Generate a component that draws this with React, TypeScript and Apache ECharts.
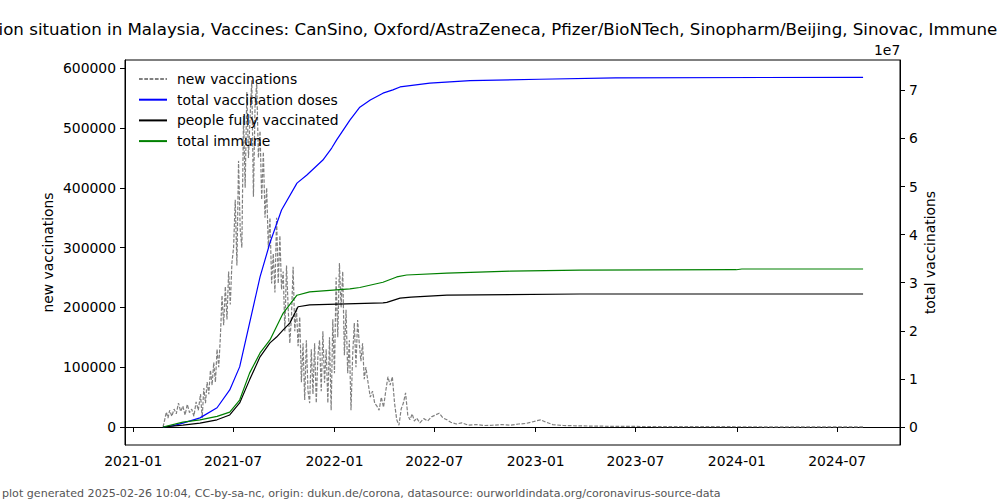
import React, { useEffect, useRef } from "react";
import * as echarts from "echarts";

const newVaxDates = [
  "2021-02-24","2021-02-27","2021-03-02","2021-03-05","2021-03-08","2021-03-12","2021-03-16","2021-03-20","2021-03-24","2021-03-28",
  "2021-04-01","2021-04-05","2021-04-09","2021-04-13","2021-04-17","2021-04-21","2021-04-25","2021-04-29","2021-05-03","2021-05-06",
  "2021-05-09","2021-05-12","2021-05-15","2021-05-18","2021-05-21","2021-05-24","2021-05-27","2021-05-30",
  "2021-06-02","2021-06-05","2021-06-08","2021-06-11","2021-06-14","2021-06-17","2021-06-20","2021-06-23","2021-06-26","2021-06-29",
  "2021-07-02","2021-07-05","2021-07-08","2021-07-11","2021-07-14","2021-07-17","2021-07-20","2021-07-23","2021-07-26","2021-07-29",
  "2021-08-01","2021-08-04","2021-08-07","2021-08-10","2021-08-13","2021-08-16","2021-08-19","2021-08-22","2021-08-25","2021-08-28","2021-08-31",
  "2021-09-03","2021-09-06","2021-09-09","2021-09-12","2021-09-15","2021-09-18","2021-09-21","2021-09-24","2021-09-27","2021-09-30",
  "2021-10-03","2021-10-06","2021-10-09","2021-10-12","2021-10-15","2021-10-18","2021-10-21","2021-10-24","2021-10-27","2021-10-30",
  "2021-11-02","2021-11-05","2021-11-08","2021-11-11","2021-11-14","2021-11-17","2021-11-20","2021-11-23","2021-11-26","2021-11-29",
  "2021-12-02","2021-12-05","2021-12-08","2021-12-11","2021-12-14","2021-12-17","2021-12-20","2021-12-23","2021-12-26","2021-12-29",
  "2022-01-01","2022-01-04","2022-01-07","2022-01-10","2022-01-13","2022-01-16","2022-01-19","2022-01-22","2022-01-25","2022-01-28","2022-01-31",
  "2022-02-03","2022-02-06","2022-02-09","2022-02-12","2022-02-15","2022-02-18","2022-02-21","2022-02-24","2022-02-27",
  "2022-03-03","2022-03-07","2022-03-11","2022-03-15","2022-03-19","2022-03-23","2022-03-27","2022-03-31",
  "2022-04-04","2022-04-08","2022-04-12","2022-04-16","2022-04-20","2022-04-24","2022-04-28",
  "2022-05-02","2022-05-06","2022-05-10","2022-05-14","2022-05-18","2022-05-22","2022-05-26","2022-05-30",
  "2022-06-05","2022-06-12","2022-06-19","2022-06-26","2022-07-03","2022-07-10","2022-07-17","2022-07-24","2022-07-31",
  "2022-08-10","2022-08-20","2022-09-01","2022-09-15","2022-10-01","2022-10-15","2022-11-01","2022-11-15","2022-12-01","2022-12-15",
  "2023-01-01","2023-01-10","2023-01-20","2023-02-01","2023-02-20","2023-03-15","2023-04-15","2023-06-01","2023-08-01","2023-10-01","2023-12-01",
  "2024-02-01","2024-04-01","2024-06-01","2024-08-17"
];
const newVaxValues = [
  0,12000,25000,15000,28000,18000,30000,22000,40000,26000,
  35000,20000,38000,24000,30000,18000,42000,28000,55000,15000,
  65000,40000,75000,55000,95000,70000,108000,75000,
  130000,100000,150000,220000,170000,235000,180000,260000,205000,275000,
  300000,380000,270000,445000,330000,300000,520000,400000,560000,450000,
  520000,580000,385000,540000,575000,450000,495000,380000,460000,350000,400000,
  300000,350000,240000,290000,225000,350000,240000,320000,230000,260000,
  160000,270000,200000,140000,185000,268000,160000,200000,135000,184000,
  75000,140000,45000,145000,60000,40000,130000,55000,140000,40000,
  120000,145000,60000,160000,74000,130000,40000,150000,28000,180000,
  90000,250000,150000,274000,200000,260000,120000,196000,90000,145000,28000,
  120000,174000,100000,179000,140000,110000,140000,80000,100000,
  74000,50000,60000,40000,35000,28000,50000,33000,
  60000,84000,70000,84000,40000,12000,3000,
  30000,40000,57000,20000,12000,22000,10000,15000,
  7000,14000,10000,17000,20000,23000,15000,12000,8000,
  5000,7000,3000,4000,2500,3000,4000,3000,5000,6000,
  10000,12000,8000,4000,2500,2000,1500,1000,800,600,500,
  400,300,200,100
];

const totalDosesDates = [
  "2021-02-24","2021-03-15","2021-04-01","2021-05-02","2021-06-02","2021-06-25","2021-07-13","2021-07-31","2021-08-19","2021-09-06",
  "2021-09-27","2021-10-25","2021-11-12","2021-12-11","2021-12-27","2022-01-05","2022-01-29","2022-02-16","2022-03-07","2022-03-30",
  "2022-04-17","2022-04-30","2022-06-23","2022-09-04","2023-01-08","2023-05-26","2024-08-17"
];
const totalDosesValues = [
  0,300000,800000,1900000,4000000,7700000,12500000,21600000,31200000,38300000,
  45100000,50700000,52400000,55500000,58000000,59700000,63800000,66500000,68000000,69400000,
  70100000,70700000,71500000,72000000,72300000,72600000,72700000
];

const fullyDates = [
  "2021-02-24","2021-04-01","2021-05-02","2021-06-02","2021-06-25","2021-07-13","2021-07-31","2021-08-19","2021-09-06","2021-09-18",
  "2021-09-30","2021-10-12","2021-10-27","2021-11-17","2022-03-30","2022-04-06","2022-04-30","2022-05-20","2022-07-24","2023-03-22","2024-08-17"
];
const fullyValues = [
  0,400000,800000,1500000,2500000,5000000,9800000,14600000,17500000,18700000,
  20200000,21600000,25000000,25400000,25800000,25900000,26800000,27000000,27400000,27650000,27650000
];

const immuneDates = [
  "2021-02-24","2021-04-01","2021-05-02","2021-06-02","2021-06-25","2021-07-13","2021-07-31","2021-08-19","2021-09-06","2021-09-30",
  "2021-10-25","2021-11-17","2022-01-29","2022-02-16","2022-03-30","2022-04-24","2022-05-12","2022-07-24","2022-11-16","2023-03-22",
  "2023-12-31","2024-01-10","2024-08-17"
];
const immuneValues = [
  0,1000000,1500000,2200000,3100000,5600000,11200000,15400000,18100000,23700000,
  27400000,28100000,28700000,29000000,30100000,31200000,31600000,32000000,32400000,32600000,
  32700000,32850000,32850000
];

const xTickLabels = ["2021-01","2021-07","2022-01","2022-07","2023-01","2023-07","2024-01","2024-07"];
const leftTicks = [0, 100000, 200000, 300000, 400000, 500000, 600000];
const rightTicks = [0, 1, 2, 3, 4, 5, 6, 7];

const toTs = (s: string) => {
  const [y, m, d] = s.split("-").map(Number);
  return Date.UTC(y, m - 1, d || 1);
};
const pairs = (dates: string[], vals: number[]) => dates.map((d, i) => [toTs(d), vals[i]]);

const FONT = "DejaVu Sans";

export default function App() {
  const ref = useRef<HTMLDivElement>(null);
  useEffect(() => {
    if (!ref.current) return;
    const chart = echarts.init(ref.current, undefined, { renderer: "svg" });
    const xTickVals = xTickLabels.map((l) => toTs(l + "-01"));
    const axisCommon = {
      axisLine: { show: true, lineStyle: { color: "#000", width: 1 } },
      axisTick: { show: true, inside: false, length: 5, lineStyle: { color: "#000" } },
      splitLine: { show: false },
    };
    chart.setOption({
      animation: false,
      backgroundColor: "#fff",
      grid: { left: 125, right: 100, top: 60, bottom: 55, show: true, borderColor: "#000", borderWidth: 1 },
      legend: {
        orient: "vertical",
        left: 133,
        top: 67,
        itemWidth: 28,
        itemHeight: 14,
        itemGap: 6.7,
        itemStyle: { opacity: 0 },
        textStyle: { fontFamily: FONT, fontSize: 13.9, color: "#000", padding: [0, 0, 0, 5] },
        data: ["new vaccinations", "total vaccination doses", "people fully vaccinated", "total immune"],
      },
      xAxis: {
        type: "value",
        min: toTs("2020-12-17"),
        max: toTs("2024-10-23"),
        ...axisCommon,
        axisTick: { ...axisCommon.axisTick, customValues: xTickVals },
        axisLabel: {
          customValues: xTickVals,
          margin: 9,
          fontFamily: FONT,
          fontSize: 13.9,
          color: "#000",
          formatter: (v: number) => {
            const i = xTickVals.indexOf(v);
            return i >= 0 ? xTickLabels[i] : "";
          },
        },
      },
      yAxis: [
        {
          type: "value",
          position: "left",
          min: -30100,
          max: 613700,
          name: "new vaccinations",
          nameLocation: "middle",
          nameGap: 70,
          nameMoveOverlap: false,
          nameTextStyle: { fontFamily: FONT, fontSize: 13.9, color: "#000" },
          ...axisCommon,
          axisTick: { ...axisCommon.axisTick, customValues: leftTicks },
          axisLabel: {
            customValues: leftTicks,
            margin: 9,
            fontFamily: FONT,
            fontSize: 13.9,
            color: "#000",
            formatter: (v: number) => String(Math.round(v)),
          },
        },
        {
          type: "value",
          position: "right",
          min: -3740000,
          max: 76300000,
          name: "total vaccinations",
          nameLocation: "middle",
          nameGap: 23,
          nameMoveOverlap: false,
          nameRotate: 90,
          nameTextStyle: { fontFamily: FONT, fontSize: 13.9, color: "#000" },
          ...axisCommon,
          axisTick: { ...axisCommon.axisTick, customValues: rightTicks.map((t) => t * 1e7) },
          axisLabel: {
            customValues: rightTicks.map((t) => t * 1e7),
            margin: 9,
            fontFamily: FONT,
            fontSize: 13.9,
            color: "#000",
            formatter: (v: number) => String(Math.round(v / 1e7)),
          },
        },
      ],
      graphic: [
        {
          type: "text",
          left: -72,
          top: 21,
          style: {
            text: "Vaccination situation in Malaysia, Vaccines: CanSino, Oxford/AstraZeneca, Pfizer/BioNTech, Sinopharm/Beijing, Sinovac, Immune",
            font: `16.67px "${FONT}"`,
            fill: "#000",
          },
        },
        {
          type: "text",
          left: 874,
          top: 43,
          style: { text: "1e7", font: `13.9px "${FONT}"`, fill: "#000" },
        },
        {
          type: "text",
          left: 2,
          top: 488,
          style: {
            text: "plot generated 2025-02-26 10:04, CC-by-sa-nc, origin: dukun.de/corona, datasource: ourworldindata.org/coronavirus-source-data",
            font: `11.1px "${FONT}"`,
            fill: "#555",
          },
        },
      ],
      series: [
        {
          name: "new vaccinations",
          type: "line",
          yAxisIndex: 0,
          symbol: "none",
          data: pairs(newVaxDates, newVaxValues),
          lineStyle: { color: "#808080", width: 1.2, type: [3.7, 1.6] },
          itemStyle: { color: "#808080" },
        },
        {
          name: "total vaccination doses",
          type: "line",
          yAxisIndex: 1,
          symbol: "none",
          data: pairs(totalDosesDates, totalDosesValues),
          lineStyle: { color: "#0000ff", width: 1.2 },
          itemStyle: { color: "#0000ff" },
        },
        {
          name: "people fully vaccinated",
          type: "line",
          yAxisIndex: 1,
          symbol: "none",
          data: pairs(fullyDates, fullyValues),
          lineStyle: { color: "#000000", width: 1.2 },
          itemStyle: { color: "#000000" },
        },
        {
          name: "total immune",
          type: "line",
          yAxisIndex: 1,
          symbol: "none",
          data: pairs(immuneDates, immuneValues),
          lineStyle: { color: "#008000", width: 1.2 },
          itemStyle: { color: "#008000" },
        },
      ],
    });
    return () => chart.dispose();
  }, []);
  return <div ref={ref} style={{ width: 1000, height: 500, position: "absolute", left: 0, top: 0 }} />;
}
